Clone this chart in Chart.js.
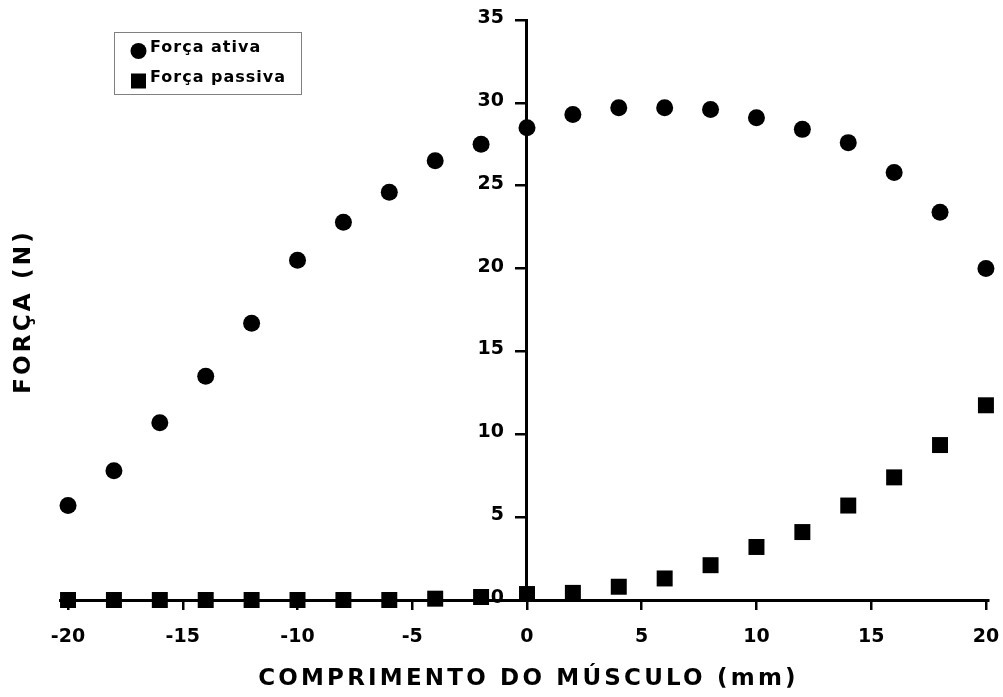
<!DOCTYPE html>
<html>
<head>
<meta charset="utf-8">
<script src="https://cdn.jsdelivr.net/npm/chart.js@4"></script>
<style>
  html, body { margin: 0; padding: 0; background: #fff; }
  #wrap { width: 1003px; height: 697px; }
</style>
</head>
<body>
<div id="wrap"><canvas id="forceChart" width="1003" height="697"></canvas></div>
<script>
// muscle length (mm)
const lengths = [-20, -18, -16, -14, -12, -10, -8, -6, -4, -2, 0, 2, 4, 6, 8, 10, 12, 14, 16, 18, 20];
const activeForce  = [5.7, 7.8, 10.7, 13.5, 16.7, 20.5, 22.8, 24.6, 26.5, 27.5, 28.5, 29.3, 29.7, 29.7, 29.6, 29.1, 28.4, 27.6, 25.8, 23.4, 20.0];
const passiveForce = [0, 0, 0, 0, 0, 0, 0, 0, 0.08, 0.18, 0.36, 0.43, 0.8, 1.3, 2.1, 3.2, 4.1, 5.7, 7.4, 9.35, 11.75];
const xTicks = [-20, -15, -10, -5, 0, 5, 10, 15, 20];
const yTicks = [0, 5, 10, 15, 20, 25, 30, 35];
const seriesNames = ['Força ativa', 'Força passiva'];
const xTitle = 'COMPRIMENTO DO MÚSCULO (mm)';
const yTitle = 'FORÇA (N)';

const FONT = '"DejaVu Sans", sans-serif';

const pts = vals => vals.map((v, i) => ({x: lengths[i], y: v}));

// tick labels, titles and legend box (the axes sit at x=0 / y=0,
// so chart.js would put the y labels right on top of the axis line)
const decor = {
  id: 'decor',
  afterDraw(chart) {
    const {ctx, chartArea, scales} = chart;
    const x0 = scales.x.getPixelForValue(0);
    const y0 = scales.y.getPixelForValue(0);
    ctx.save();
    ctx.fillStyle = '#000';
    ctx.textBaseline = 'middle';

    ctx.font = 'bold 19px ' + FONT;
    ctx.textAlign = 'center';
    xTicks.forEach(v => ctx.fillText(String(v), scales.x.getPixelForValue(v), y0 + 37));
    ctx.textAlign = 'right';
    yTicks.forEach(v => ctx.fillText(String(v), x0 - 23, scales.y.getPixelForValue(v) - 2));

    ctx.textAlign = 'center';
    ctx.font = 'bold 23px ' + FONT;
    ctx.letterSpacing = '3.2px';
    ctx.fillText(xTitle, x0 + 1.5, 679);
    ctx.save();
    ctx.translate(24, (chartArea.top + chartArea.bottom) / 2 + 1.5);
    ctx.rotate(-Math.PI / 2);
    ctx.fillText(yTitle, 0, 0);
    ctx.restore();

    // legend
    ctx.letterSpacing = '1px';
    ctx.strokeStyle = '#808080';
    ctx.lineWidth = 1;
    ctx.strokeRect(114.5, 32.5, 187, 62);
    ctx.textAlign = 'left';
    ctx.font = 'bold 16px ' + FONT;
    chart.data.datasets.forEach((ds, i) => {
      const my = 51 + i * 30;
      if (ds.pointStyle === 'rect') {
        ctx.fillRect(131, my - 7.5, 15, 15);
      } else {
        ctx.beginPath();
        ctx.arc(138.5, my, 8, 0, Math.PI * 2);
        ctx.fill();
      }
      ctx.fillText(ds.label, 150, 48 + i * 30);
    });
    ctx.restore();
  }
};

new Chart(document.getElementById('forceChart'), {
  type: 'scatter',
  data: {
    datasets: [
      {label: seriesNames[0], data: pts(activeForce),  pointStyle: 'circle', pointRadius: 8.5, pointHoverRadius: 8.5,
       backgroundColor: '#000', borderColor: '#000', borderWidth: 0, clip: false},
      {label: seriesNames[1], data: pts(passiveForce), pointStyle: 'rect', pointRadius: 11.3, pointHoverRadius: 11.3,
       backgroundColor: '#000', borderColor: '#000', borderWidth: 0, clip: false},
    ]
  },
  options: {
    responsive: false,
    animation: false,
    events: [],
    layout: {padding: {left: 60, right: 15, top: 20, bottom: 97}},
    plugins: {legend: {display: false}, tooltip: {enabled: false}},
    scales: {
      x: {
        type: 'linear', position: {y: 0}, min: -20.35, max: 20.09,
        afterBuildTicks: s => { s.ticks = xTicks.map(v => ({value: v})); },
        grid: {display: true, drawOnChartArea: false, drawTicks: true, tickLength: 8, color: '#000', lineWidth: 2.5},
        border: {display: true, color: '#000', width: 3},
        ticks: {display: false}
      },
      y: {
        type: 'linear', position: {x: 0}, min: 0, max: 35,
        afterBuildTicks: s => { s.ticks = yTicks.map(v => ({value: v})); },
        grid: {display: true, drawOnChartArea: false, drawTicks: true, tickLength: 10, color: '#000', lineWidth: 2.5},
        border: {display: true, color: '#000', width: 3},
        ticks: {display: false}
      }
    }
  },
  plugins: [decor]
});
</script>
</body>
</html>
